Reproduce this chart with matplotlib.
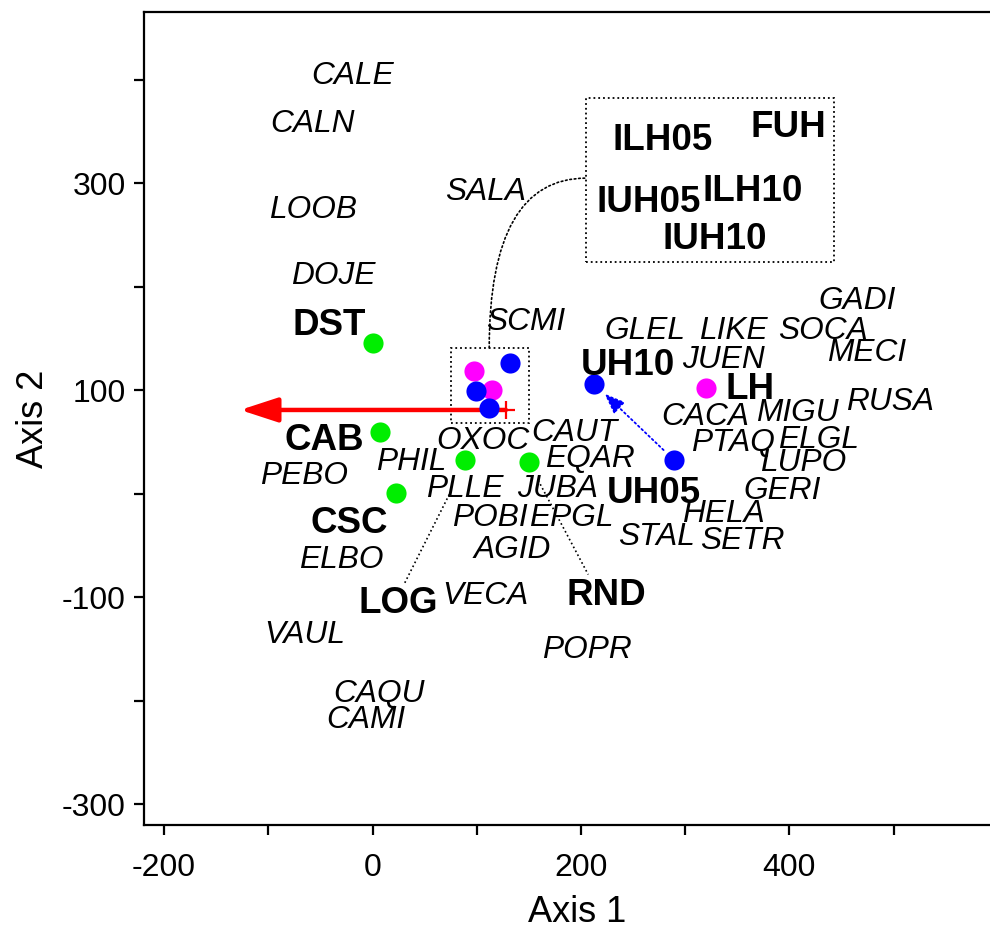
import matplotlib.pyplot as plt

plt.rcParams['font.family'] = ['Liberation Sans', 'DejaVu Sans']

# species scores (italic labels)
species = ['CALE', 'CALN', 'LOOB', 'DOJE', 'SALA', 'SCMI', 'GLEL', 'LIKE', 'SOCA',
           'GADI', 'MECI', 'JUEN', 'RUSA', 'CACA', 'MIGU', 'PTAQ', 'ELGL', 'LUPO',
           'GERI', 'HELA', 'STAL', 'SETR', 'CAUT', 'EQAR', 'OXOC', 'PHIL', 'PLLE',
           'JUBA', 'PEBO', 'POBI', 'EPGL', 'AGID', 'ELBO', 'VECA', 'POPR', 'VAUL',
           'CAQU', 'CAMI']
sp_x = [-19, -58, -57, -38, 109, 147, 261, 346, 432,
        465, 474, 337, 497, 319, 408, 346, 428, 413,
        393, 337, 273, 355, 194, 209, 106, 37, 89,
        178, -66, 113, 191, 134, -30, 108, 206, -65,
        6, -6]
sp_y = [407, 361, 278, 214, 295, 169, 161, 161, 161,
        190, 139, 133, 92, 78, 81, 52, 55, 33,
        6, -16, -38, -42, 62, 37, 54, 34, 8,
        8, 21, -20, -20, -51, -61, -95, -148, -133,
        -190, -215]

# treatment labels (bold)
treat = ['DST', 'CAB', 'CSC', 'LOG', 'RND', 'UH10', 'UH05', 'LH',
         'FUH', 'ILH05', 'ILH10', 'IUH05', 'IUH10']
tr_x = [-42, -46, -22, 25, 224, 245, 270, 362, 399, 278, 365, 265, 328]
tr_y = [166, 55, -25, -102, -94, 128, 4, 105, 358, 345, 296, 285, 250]

# site scores
green_x = [0, 7, 23, 89, 150]
green_y = [146, 60, 1, 33, 31]
magenta_x = [97, 115, 320]
magenta_y = [119, 100, 102]
blue_x = [132, 99, 112, 213, 289]
blue_y = [126, 99, 83, 106, 33]

# environmental vector
vec_x = [128, -127]
vec_y = [81, 81]

# boxes and leader lines
small_box = [75, 68, 150, 141]   # x0, y0, x1, y1
big_box = [205, 224, 443, 382]
curve_x = [112, 205]
curve_y = [141, 305]
log_line_x = [31, 74]
log_line_y = [-86, 0]
rnd_line_x = [159, 207]
rnd_line_y = [13, -78]

xticks = [-200, -100, 0, 100, 200, 300, 400, 500]
xticklabels = ['-200', '', '0', '', '200', '', '400', '']
yticks = [-300, -200, -100, 0, 100, 200, 300, 400]
yticklabels = ['-300', '', '-100', '', '100', '', '300', '']

fig = plt.figure(figsize=(9.9, 9.31), dpi=100)
ax = fig.add_axes([144/990, 106/931, (1010-144)/990, (825-12)/931])
ax.set_xlim(-219.3, 611.8)
ax.set_ylim(-320, 465.5)

for sp in ax.spines.values():
    sp.set_linewidth(1.6)

ax.set_xticks(xticks)
ax.set_xticklabels(xticklabels)
ax.set_yticks(yticks)
ax.set_yticklabels(yticklabels)
ax.tick_params(direction='out', length=7, width=1.6, labelsize=23)
ax.tick_params(axis='x', pad=13)
ax.tick_params(axis='y', pad=6)
ax.set_xlabel('Axis 1', fontsize=26, labelpad=9)
ax.set_ylabel('Axis 2', fontsize=26, labelpad=8)

# dotted boxes
ax.add_patch(plt.Rectangle((small_box[0], small_box[1]), small_box[2]-small_box[0],
                           small_box[3]-small_box[1], fill=False, ls=':', lw=1.3, color='k'))
ax.add_patch(plt.Rectangle((big_box[0], big_box[1]), big_box[2]-big_box[0],
                           big_box[3]-big_box[1], fill=False, ls=':', lw=1.3, color='k'))
ax.annotate('', xy=(curve_x[1], curve_y[1]), xytext=(curve_x[0], curve_y[0]),
            arrowprops=dict(arrowstyle='-', ls=':', lw=1.2, color='k',
                            connectionstyle='angle3,angleA=90,angleB=0',
                            shrinkA=0, shrinkB=0))
ax.plot(log_line_x, log_line_y, ls=':', lw=1.2, color='k')
ax.plot(rnd_line_x, rnd_line_y, ls=':', lw=1.2, color='k')

# red vector
ax.annotate('', xy=(vec_x[1], vec_y[1]), xytext=(vec_x[0], vec_y[0]),
            arrowprops=dict(arrowstyle='-|>,head_length=2.3,head_width=0.75', lw=3.2,
                            color='red', mutation_scale=10, shrinkA=0, shrinkB=0),
            zorder=2)
ax.plot(vec_x[0], vec_y[0], '+', color='red', ms=13, mew=1.6, zorder=2)

# blue trajectory arrow UH05 -> UH10
ax.annotate('', xy=(blue_x[3], blue_y[3]), xytext=(blue_x[4], blue_y[4]),
            arrowprops=dict(arrowstyle='-|>,head_length=0.9,head_width=0.35', ls=':',
                            lw=1.3, color='blue', mutation_scale=14,
                            shrinkA=10, shrinkB=10))

ax.plot(green_x, green_y, 'o', color='#00ee00', ms=14.5, mec='none', zorder=3)
ax.plot(magenta_x, magenta_y, 'o', color='#ff00ff', ms=14.5, mec='none', zorder=3)
ax.plot(blue_x, blue_y, 'o', color='#0000ff', ms=14.5, mec='none', zorder=3)

for s, x, y in zip(species, sp_x, sp_y):
    ax.text(x, y, s, fontsize=22.8, style='italic', ha='center', va='center_baseline', zorder=4)
for s, x, y in zip(treat, tr_x, tr_y):
    ax.text(x, y, s, fontsize=26.5, fontweight='bold', ha='center', va='center_baseline', zorder=4)

fig.savefig('out.png', dpi=100)
